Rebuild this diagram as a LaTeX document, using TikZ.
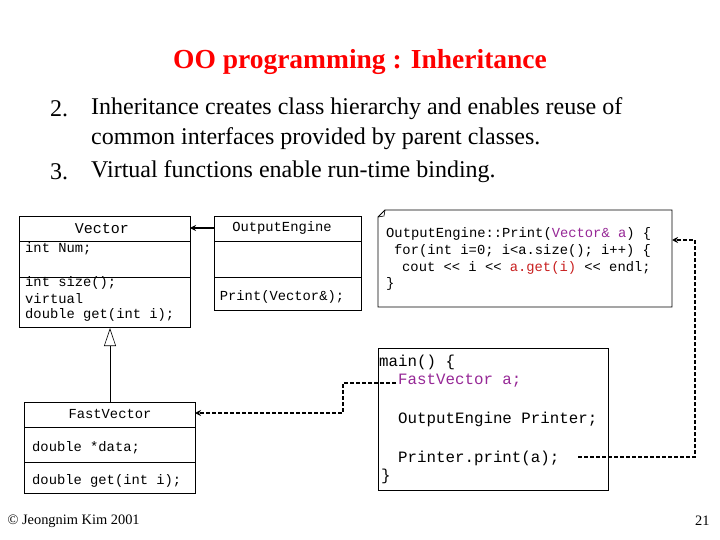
\documentclass[tikz,border=0pt]{standalone}
\usepackage{fontspec}
\setmainfont{Liberation Serif}
\setmonofont{Liberation Mono}
\usetikzlibrary{arrows.meta}
\definecolor{ttred}{RGB}{200,30,30}
\definecolor{ttpur}{RGB}{150,40,150}
\begin{document}
\begin{tikzpicture}[x=1pt,y=-1pt,
  box/.style={draw,line width=0.8pt},
  code/.style={anchor=west,inner sep=0pt,font=\ttfamily\fontsize{13.8}{13.8}\selectfont},
  bigcode/.style={anchor=west,inner sep=0pt,font=\ttfamily\fontsize{15.8}{15.8}\selectfont},
  dep/.style={dash pattern=on 4pt off 2pt,line width=1.8pt,-{Stealth[length=6pt,width=6pt]}},
  lst/.style={anchor=west,inner sep=0pt,font=\fontsize{24}{24}\selectfont}]
\useasboundingbox (0,0) rectangle (720,540);
% title
\node[text=red,font=\bfseries\fontsize{27.5}{27.5}\selectfont] (title) at (360,62) {OO programming : Inheritance};
\node[lst] (n2) at (50,109) {2.};
\node[lst] (l2a) at (91,109) {Inheritance creates class hierarchy and enables reuse of};
\node[lst] (l2b) at (91,139) {common interfaces provided by parent classes.};
\node[lst] (n3) at (50,172) {3.};
\node[lst] (l3) at (91,172) {Virtual functions enable run-time binding.};
% Vector
\draw[box] (19,216) rectangle (190,327);
\draw[box] (19,241) -- (190,241) (19,277) -- (190,277);
\node[font=\ttfamily\fontsize{15}{15}\selectfont] (vec) at (102,229) {Vector};
\coordinate (vecR) at (190,228);
\node[code] (vnum) at (25,249) {int Num;};
\node[code] (vs) at (25,283) {int size();};
\node[code] (vv) at (25,299) {virtual};
\node[code] (vg) at (25,315) {double get(int i);};
% OutputEngine
\draw[box] (214,216) rectangle (361,310);
\draw[box] (214,241) -- (361,241) (214,277) -- (361,277);
\node[code,anchor=center] (oe) at (282,228) {OutputEngine};
\coordinate (oeL) at (214,228);
\node[code,anchor=center] (oep) at (282,297) {Print(Vector\&);};
\draw[line width=2pt,-{Stealth[length=6pt,width=6pt]}] (oeL) -- (vecR);
% note
\draw[box] (385,210) -- (672,210) -- (672,307) -- (378,307) -- (378,217) -- cycle;
\draw[line width=0.6pt] (385,210) -- (384,216) -- (378,217);
\node[code] (c1) at (386,234) {OutputEngine::Print(\textcolor{ttpur}{Vector\& a}) \{};
\node[code] (c2) at (394,251) {for(int i=0; i<a.size(); i++) \{};
\node[code] (c3) at (402,268) {cout << i << \textcolor{ttred}{a.get(i)} << endl;};
\node[code] (c4) at (386,284) {\}};
\coordinate (noteR) at (672,240);
% main
\draw[box] (378,348) rectangle (608,490);
\node[bigcode] (m1) at (379,362) {main() \{};
\node[bigcode] (m2) at (398,381) {\textcolor{ttpur}{FastVector a;}};
\node[bigcode] (m3) at (398,419) {OutputEngine Printer;};
\node[bigcode] (m4) at (398,458) {Printer.print(a);};
\node[bigcode] (m5) at (381,476) {\}};
% FastVector
\draw[box] (24,402) rectangle (195,493);
\draw[box] (24,427) -- (195,427) (24,462) -- (195,462);
\node[code,anchor=center] (fv) at (110,414) {FastVector};
\coordinate (fvR) at (195,413);
\node[code] (fd) at (32,448) {double *data;};
\node[code] (fg) at (32,481) {double get(int i);};
% inheritance
\coordinate (fvT) at (110,402);
\coordinate (vecB) at (110,328);
\draw[line width=0.6pt,-{Triangle[open,length=18pt,width=12pt]}] (fvT) -- (vecB);
% dependencies
\coordinate (m2L) at (396,383);
\coordinate (m4R) at (578,457);
\draw[dep] (m2L) -- (343,383) -- (343,413) -- (fvR);
\draw[dep] (m4R) -- (695,457) -- (695,240) -- (noteR);
% footer
\node[anchor=west,font=\fontsize{14.4}{14.4}\selectfont] (ft) at (4,521) {© Jeongnim Kim 2001};
\node[anchor=east,font=\fontsize{14.4}{14.4}\selectfont] (pg) at (713,521) {21};
\end{tikzpicture}
\end{document}
